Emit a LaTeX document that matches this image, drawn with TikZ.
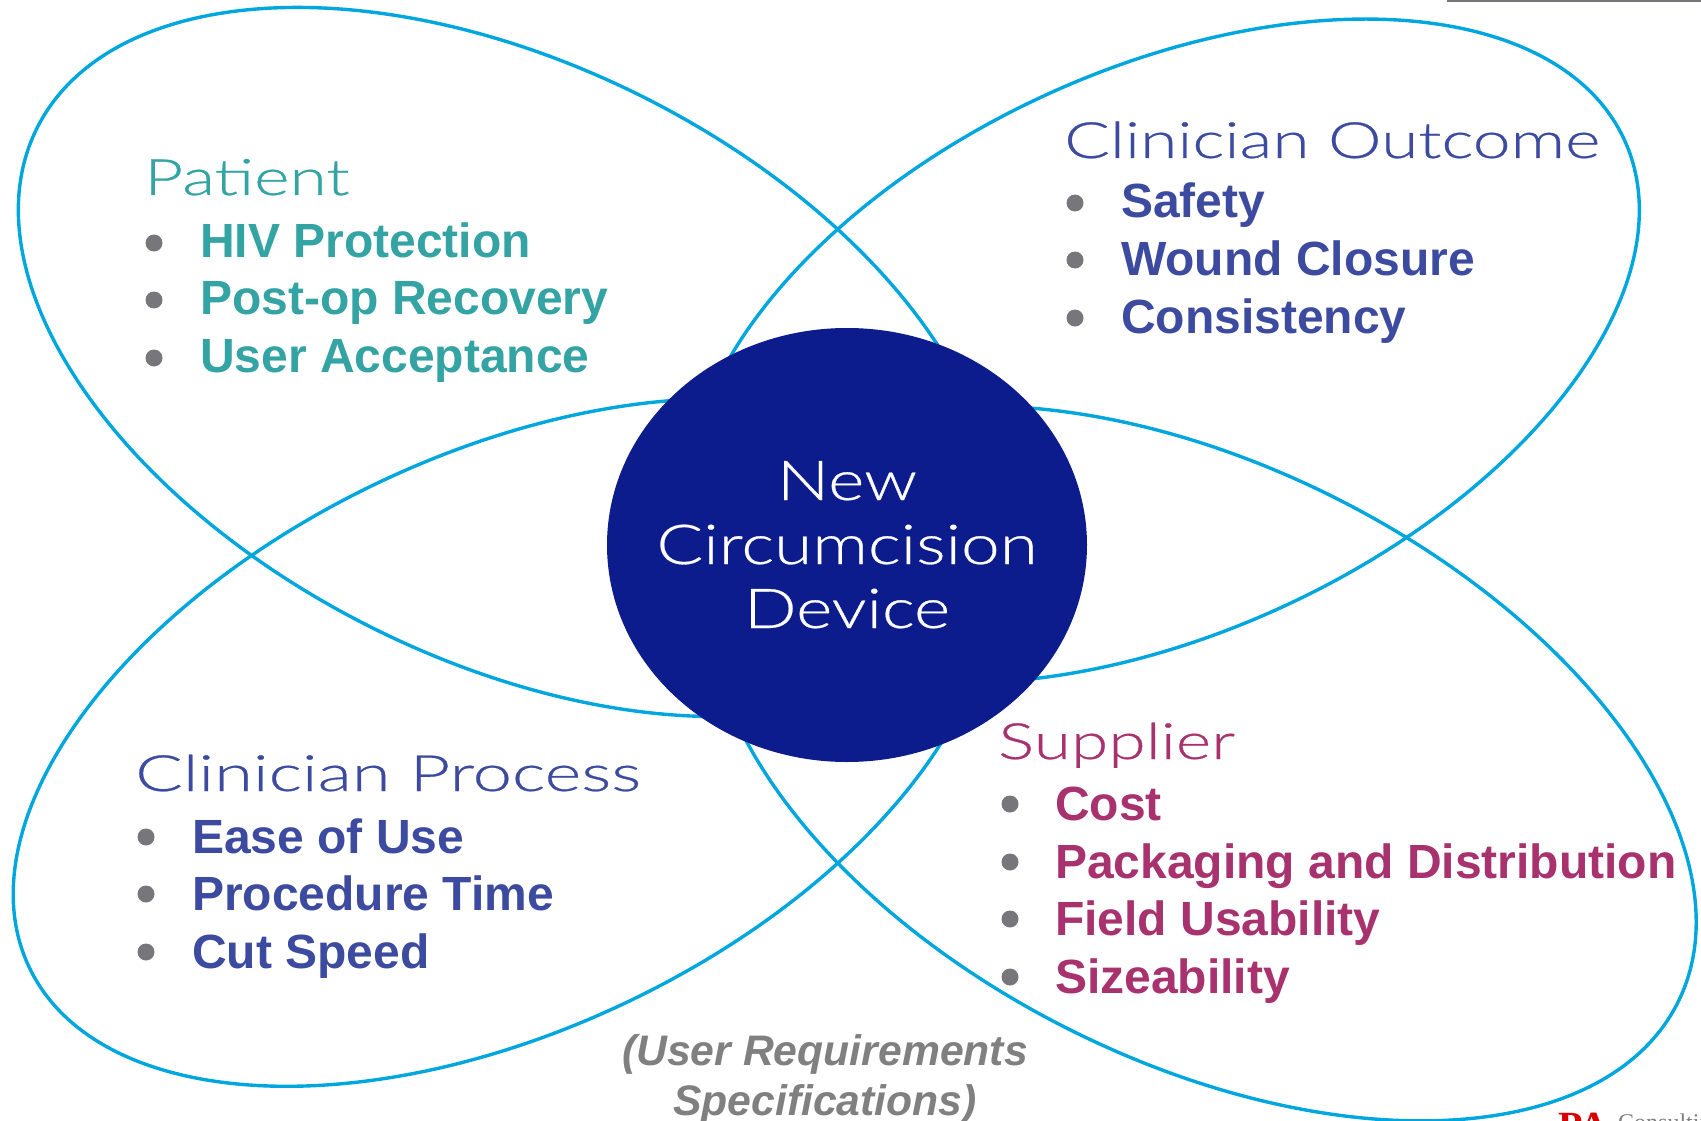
\documentclass[tikz,border=0pt]{standalone}
\usepackage{fontspec}
\usetikzlibrary{shapes.geometric}
\setmainfont{Liberation Sans}
\newfontfamily\titlefont[FakeStretch=1.355,FakeBold=0.5,UprightFont={* Light}]{Lato}
\newfontfamily\titlewidefont[FakeStretch=1.41,FakeBold=0.5,UprightFont={* Light}]{Lato}
\newfontfamily\hubfont[FakeStretch=1.26,FakeBold=0.5,UprightFont={* Light}]{Lato}
\newfontfamily\logofont{Liberation Serif}
\definecolor{teal1}{HTML}{33A3A3}
\definecolor{indigo1}{HTML}{3C4BA0}
\definecolor{plum1}{HTML}{A8326E}
\definecolor{navy1}{HTML}{0C1C8C}
\definecolor{sky1}{HTML}{00A6DE}
\definecolor{gray1}{HTML}{77767B}
\definecolor{gray2}{HTML}{808080}
\tikzset{
  x=1pt,y=1pt,
  lobe/.style={draw=sky1,line width=3.4pt},
  title/.style={anchor=base west,inner sep=0pt,font=\titlefont\fontsize{50}{50}\selectfont},
  wide title/.style={anchor=base west,inner sep=0pt,font=\titlewidefont\fontsize{50}{50}\selectfont},
  item/.style={anchor=base west,inner sep=0pt,font=\bfseries\fontsize{48}{48}\selectfont},
  dot/.style={circle,fill=gray1,inner sep=0pt,minimum size=17pt},
  center line/.style={anchor=base,inner sep=0pt,text=white,font=\hubfont\fontsize{55}{55}\selectfont},
  note/.style={anchor=base,inner sep=0pt,text=gray2,font=\bfseries\itshape\fontsize{42.7}{43}\selectfont},
}
\begin{document}
\begin{tikzpicture}
\useasboundingbox (0,0) rectangle (1701,-1121);
\clip (0,0) rectangle (1701,-1121);
\draw[lobe,shift={(507,-362)},rotate=-26.4] (0,0) ellipse [x radius=525pt,y radius=298pt];
\draw[lobe,shift={(1164,-351)},rotate=24.6] (0,0) ellipse [x radius=506.5pt,y radius=282pt];
\draw[lobe,shift={(502.5,-742.5)},rotate=25.4] (0,0) ellipse [x radius=524pt,y radius=288pt];
\draw[lobe,shift={(1202,-763.5)},rotate=-26.7] (0,0) ellipse [x radius=532.5pt,y radius=297.2pt];
\node[ellipse,fill=navy1,minimum width=480pt,minimum height=434pt,inner sep=0pt] (hub) at (847,-545) {};
\node[center line] (n1) at (847,-500) {New};
\node[center line] (n2) at (847,-564) {Circumcision};
\node[center line] (n3) at (847,-628) {Device};
% Patient
\node[title,text=teal1] (pt) at (144,-195) {Patient};
\node[dot] (pd1) at (154,-243) {};
\node[dot] (pd2) at (154,-300) {};
\node[dot] (pd3) at (154,-358) {};
\node[item,text=teal1] (p1) at (200,-257) {HIV Protection};
\node[item,text=teal1] (p2) at (200,-314) {Post-op Recovery};
\node[item,text=teal1] (p3) at (200,-372) {User Acceptance};
% Clinician Outcome
\node[title,text=indigo1] (ot) at (1064,-158) {Clinician Outcome};
\node[dot] (od1) at (1075,-203) {};
\node[dot] (od2) at (1075,-260) {};
\node[dot] (od3) at (1075,-318) {};
\node[item,text=indigo1] (o1) at (1121,-218) {Safety};
\node[item,text=indigo1] (o2) at (1121,-275) {Wound Closure};
\node[item,text=indigo1] (o3) at (1121,-333) {Consistency};
% Clinician Process
\node[wide title,text=indigo1] (ct) at (135,-791) {Clinician Process};
\node[dot] (cd1) at (146,-837) {};
\node[dot] (cd2) at (146,-894) {};
\node[dot] (cd3) at (146,-952) {};
\node[item,text=indigo1] (c1) at (192,-853) {Ease of Use};
\node[item,text=indigo1] (c2) at (192,-910) {Procedure Time};
\node[item,text=indigo1] (c3) at (192,-968) {Cut Speed};
% Supplier
\node[title,text=plum1] (st) at (998,-759) {Supplier};
\node[dot] (sd1) at (1010,-804) {};
\node[dot] (sd2) at (1010,-862) {};
\node[dot] (sd3) at (1010,-919) {};
\node[dot] (sd4) at (1010,-977) {};
\node[item,text=plum1] (s1) at (1055,-820) {Cost};
\node[item,text=plum1] (s2) at (1055,-878) {Packaging and Distribution};
\node[item,text=plum1] (s3) at (1055,-935) {Field Usability};
\node[item,text=plum1] (s4) at (1055,-993) {Sizeability};
% note
\node[note] (u1) at (825,-1065) {(User Requirements};
\node[note] (u2) at (825,-1115) {Specifications)};
% remnants at the edges
\draw[gray1,line width=2pt] (1447,-1) -- (1701,-1);
\node[anchor=base west,inner sep=0pt,text=red!85!black,font=\logofont\bfseries\fontsize{40}{40}\selectfont] (l1) at (1558,-1139.5) {PA};
\node[anchor=base west,inner sep=0pt,text=gray2,font=\logofont\fontsize{24}{24}\selectfont] (l2) at (1618,-1130) {Consulting};
\end{tikzpicture}
\end{document}
